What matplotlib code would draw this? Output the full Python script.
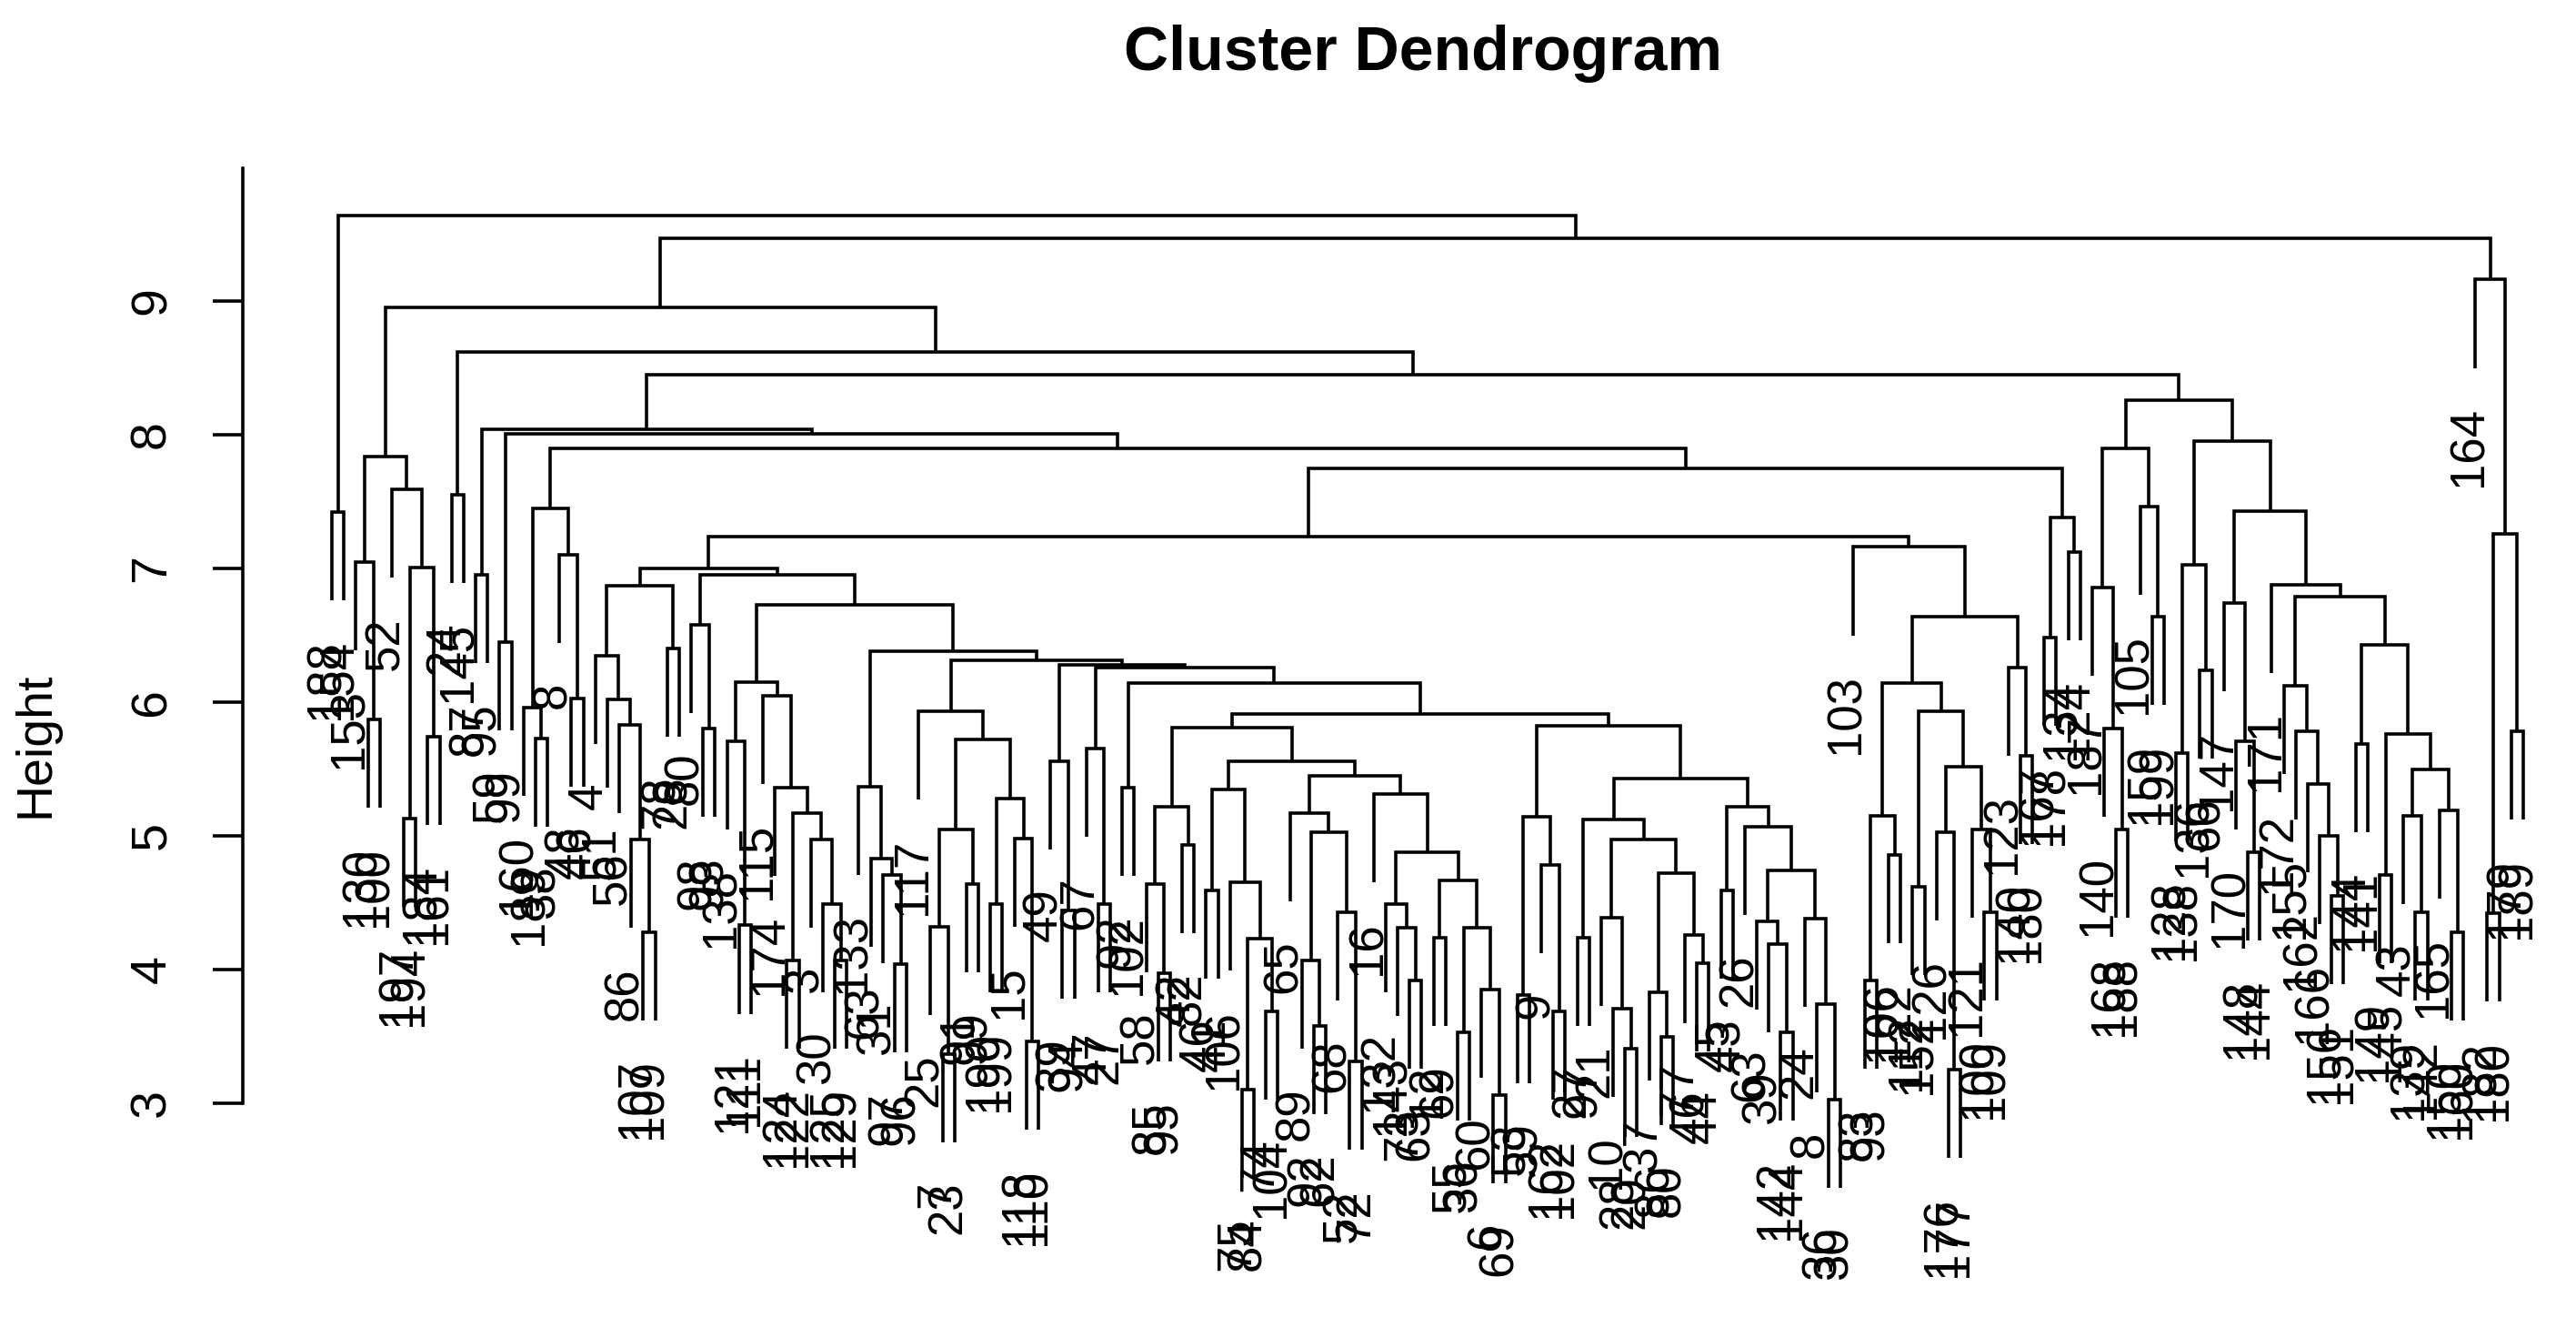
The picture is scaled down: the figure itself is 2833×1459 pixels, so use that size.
import matplotlib
matplotlib.use("Agg")
import matplotlib.pyplot as plt

plt.rcParams["font.family"] = ["Liberation Sans", "DejaVu Sans"]

# every clade is (merge height, left, right), a bare number is a leaf
clade_a = (7.42, 188, 154)
clade_b = (7.84, (7.05, 153, (5.87, 130, 100)),
           (7.59, 52, (7.01, (5.13, 197, 194), (5.74, 184, 161))))
clade_c = (7.55, 24, 145)
clade_d = (6.95, 87, 95)
clade_e = (6.45, 59, 99)
clade_f = (7.45, (5.96, 160, (5.73, 189, 38)), (7.10, 8, (6.03, 48, 46)))

clade_g1 = (6.87, (6.35, 4, (6.02, 51, (5.83, 56, (4.97, 86, (4.28, 107, 109))))),
            (6.40, 78, 28))
clade_g2 = (6.58, 80, (5.80, 98, 93))
clade_g3 = (6.15, (5.71, 138, (4.33, 121, 111)),
            (6.05, 115, (5.36, 174, (5.17, (4.07, 124, 122),
                                     (4.97, 3, (4.49, 30, (4.07, 125, 129)))))))
clade_g4 = (5.37, 133, (4.83, 63, (4.71, 31, (4.04, 97, 96))))
clade_t1 = (5.93, 117, (5.72, (5.05, (4.32, 25, (3.37, 7, 23)), (4.64, 91, 99)),
                        (5.28, (4.49, 190, 199), (4.98, 15, (3.46, 118, 110)))))
clade_t2 = (5.56, 49, (4.44, 39, 94))
clade_t3 = (5.65, 67, (4.49, 47, 27))
clade_t4 = (5.36, 92, 102)
clade_x = (5.22, (4.64, 58, (3.97, 85, 95)), (4.93, 42, 82))
clade_wa = (5.35, (4.59, 46, 41), (4.65, 106, (4.23, (3.10, 75, 84), (3.69, 74, 104))))
clade_wb = (5.45, (5.17, 65, (5.03, (4.07, 89, (3.58, 92, 62)), (4.43, 68, (3.31, 52, 72)))),
            (5.31, 16, (4.88, (4.49, 132, (4.31, 143, (3.92, 73, 63))),
                        (4.67, (4.24, 12, 69),
                         (4.31, (3.53, 55, 36), (3.85, 60, (3.06, 6, 69)))))))
clade_v2 = (5.14, (3.81, 53, 59), (4.78, 9, (3.69, 162, 102)))
clade_ya = (5.12, (4.24, 27, 97),
            (4.97, (4.39, 21, (3.71, 10, (3.41, 28, 20))),
             (4.72, (3.83, 37, (3.50, 86, 80)), (4.26, 77, (4.05, 46, 44)))))
clade_yb = (5.22, (4.59, 45, 43),
            (5.07, 26, (4.74, (4.36, 63, (4.19, 39, (3.53, 142, 144))),
                        (4.38, 24, (3.74, 8, (3.03, 36, 30))))))
clade_z = (7.16, 103, (6.64, (6.14, (5.15, (3.92, 83, 93), (4.86, 106, 122)),
                              (5.93, (4.62, 112, 152),
                               (5.52, (5.03, 126, (3.25, 176, 177)),
                                (5.05, 121, (4.43, 100, 109))))),
                       (6.26, 123, (5.60, 140, 180))))
clade_h = (7.38, (6.48, 167, 178), (7.12, 134, 124))
clade_r1 = (7.90, (6.86, 187, (5.80, 140, (5.05, 168, 188))),
            (7.46, 105, (6.64, 159, 199)))
clade_r2 = (7.03, (5.62, 128, 138), (6.24, 136, 66))
clade_r3 = (6.74, 147, (5.71, 170, (4.88, 148, 144)))
clade_r4 = (6.12, 172, (5.78, 155, (5.39, 162, (5.00, 166, (4.55, 156, 151)))))
clade_r5 = (6.43, (5.69, 144, 141),
            (5.76, (4.71, 149, 145),
             (5.50, (5.15, 43, (4.43, 139, 142)), (5.19, 165, (4.28, 150, 160)))))
clade_164 = (9.16, 164, (7.26, (4.42, 182, 180), (5.78, 179, 189)))

# joins of the big clades
g_left = (7.00, clade_g1, (6.95, clade_g2, (6.73, clade_g3, (6.38, clade_g4,
          (6.31, clade_t1, (6.28, clade_t2, (6.26, clade_t3, (6.14, clade_t4,
          (5.91, (5.81, clade_x, (5.56, clade_wa, clade_wb)),
           (5.82, clade_v2, (5.43, clade_ya, clade_yb)))))))))))
clade_g = (7.24, g_left, clade_z)
clade_q = (8.04, clade_d, (8.01, clade_e, (7.90, clade_f, (7.75, clade_g, clade_h))))
clade_r = (8.26, clade_r1, (7.95, clade_r2, (7.43, clade_r3,
           (6.88, 171, (6.79, clade_r4, clade_r5)))))
tree = (9.64, clade_a, (9.47, (8.95, clade_b, (8.62, clade_c, (8.45, clade_q, clade_r))),
                        clade_164))

height_ticks = [3, 4, 5, 6, 7, 8, 9]
axis_top = 9.99
hang = 0.66


def count_leaves(node):
    if not isinstance(node, tuple):
        return 1
    return count_leaves(node[1]) + count_leaves(node[2])


n_leaves = count_leaves(tree)

W, H = 2833, 1459
fig = plt.figure(figsize=(W / 100, H / 100), dpi=100)
ax = fig.add_axes([0, 0, 1, 1])

# leaf 0 sits at pixel 365, the last one at 2775; one height unit is 147 px
step = (2775 - 365) / (n_leaves - 1)
ax.set_xlim(-365 / step, (W - 365) / step)
ax.set_ylim(9 - (H - 331) / 147, 9 + 331 / 147)
ax.patch.set_visible(False)

leaf_no = [0]


def draw(node):
    if not isinstance(node, tuple):
        x = leaf_no[0]
        leaf_no[0] += 1
        return x, None, node
    h, left, right = node
    xl, hl, lab_l = draw(left)
    xr, hr, lab_r = draw(right)
    yl = h - hang if hl is None else hl
    yr = h - hang if hr is None else hr
    ax.plot([xl, xl, xr, xr], [yl, h, h, yr], color="black", lw=2.6,
            solid_joinstyle="miter", solid_capstyle="butt")
    for x, y, lab, is_leaf in [(xl, yl, lab_l, hl is None), (xr, yr, lab_r, hr is None)]:
        if is_leaf:
            ax.text(x - 0.5, y - 0.29, str(lab), rotation=90, ha="center", va="top",
                    fontsize=38, color="black")
    return (xl + xr) / 2, h, None


draw(tree)

# axis like base R: only the left line, stopped at its range
for side in ["top", "right", "bottom"]:
    ax.spines[side].set_visible(False)
ax.spines["left"].set_position(("data", (267 - 365) / step))
ax.spines["left"].set_bounds(3, axis_top)
ax.spines["left"].set_linewidth(2.6)
ax.set_xticks([])
ax.set_yticks(height_ticks)
ax.set_yticklabels([str(t) for t in height_ticks], rotation=90, va="center", fontsize=40)
ax.tick_params(axis="y", length=24, width=2.6, pad=29)

fig.text(1565 / W, 1 - 59 / H, "Cluster Dendrogram", ha="center", va="center",
         fontsize=49, fontweight="bold")
fig.text(40 / W, 1 - 819 / H, "Height", rotation=90, ha="center", va="center", fontsize=40)

fig.savefig("out.png", dpi=100)
